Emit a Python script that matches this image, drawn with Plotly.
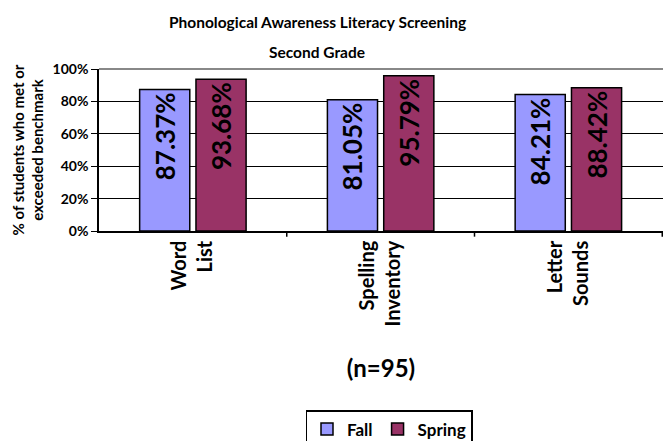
import plotly.graph_objects as go

categories = ["Word<br>List", "Spelling<br>Inventory", "Letter<br>Sounds"]
fall = [87.37, 81.05, 84.21]
spring = [93.68, 95.79, 88.42]
y_ticks = [0, 20, 40, 60, 80, 100]
y_tick_labels = ["0%", "20%", "40%", "60%", "80%", "100%"]
title_lines = ["Phonological Awareness Literacy Screening", "Second Grade"]

FONT = "Lato"

fig = go.Figure()
for name, vals, color in [("Fall", fall, "#9999FF"), ("Spring", spring, "#993366")]:
    fig.add_trace(go.Bar(
        name=name, x=categories, y=vals,
        marker=dict(color=color, line=dict(color="black", width=1.5)),
        text=[f"{v:.2f}%" for v in vals],
        textposition="inside", insidetextanchor="end", textangle=-90,
        constraintext="none",
        textfont=dict(family=FONT, size=26, color="black", weight="bold"),
        cliponaxis=False,
    ))

fig.update_layout(
    width=664, height=441,
    margin=dict(l=99, r=1, t=69, b=210, autoexpand=False),
    paper_bgcolor="white", plot_bgcolor="white",
    barmode="group", bargap=0.40, bargroupgap=0.11,
    font=dict(family=FONT, color="black", weight="bold"),
    showlegend=True,
    legend=dict(orientation="h", x=389/664, xanchor="center", y=1 - 410/441, yanchor="top",
                xref="container", yref="container",
                bordercolor="black", borderwidth=1.5,
                font=dict(family=FONT, size=17, color="black", weight="bold"),
                itemwidth=30, tracegroupgap=0),
    xaxis=dict(
        tickangle=-90, showline=True, linecolor="black", linewidth=1.5,
        ticks="", tickfont=dict(family=FONT, size=20, color="black", weight="bold"),
        title=dict(text="(n=95)", font=dict(family=FONT, size=24, color="black", weight="bold"), standoff=35),
    ),
    yaxis=dict(
        range=[0, 100], tickvals=y_ticks, ticktext=y_tick_labels,
        showgrid=True, gridcolor="black", gridwidth=1.2,
        showline=True, linecolor="black", linewidth=1.5,
        ticks="outside", ticklen=6, tickcolor="black",
        tickfont=dict(family=FONT, size=14, color="black", weight="bold"),
        title=dict(text="% of students who met or<br>exceeded benchmark",
                   font=dict(family=FONT, size=15, color="black", weight="bold"), standoff=5),
        zeroline=False,
    ),
)
# title as two separately placed lines
for txt, ypix in zip(title_lines, [22, 52]):
    fig.add_annotation(text=txt, xref="paper", yref="paper",
                       x=(317 - 99) / 564, y=1 + (69 - ypix) / 162,
                       xanchor="center", yanchor="middle", showarrow=False,
                       font=dict(family=FONT, size=15.5, color="black", weight="bold"))
# top border of plot area (gray)
fig.add_shape(type="line", xref="paper", yref="paper", x0=0, x1=1, y0=1, y1=1,
              line=dict(color="#888888", width=2))
# category separator ticks
for xv in [0.5, 1.5, 2.5]:
    fig.add_shape(type="line", xref="x", yref="paper", x0=xv, x1=xv, y0=0, y1=-0.035,
                  line=dict(color="black", width=1.5))

fig.write_html("out.html", config={"displayModeBar": False},
               post_script="document.body.style.margin='0';")
